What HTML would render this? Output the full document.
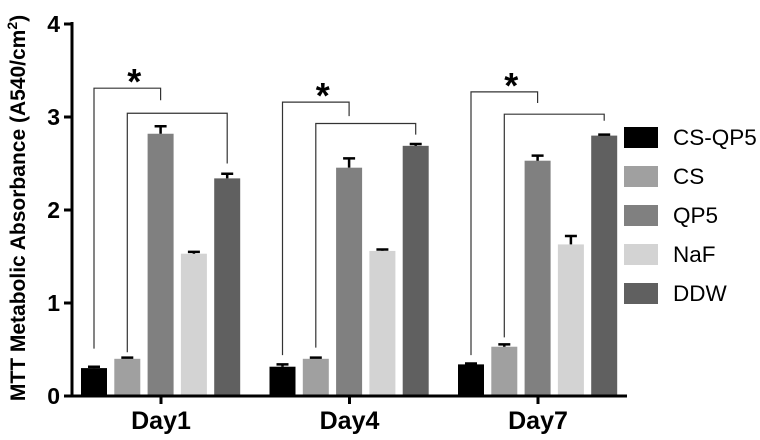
<!DOCTYPE html>
<html><head><meta charset="utf-8"><style>
html,body{margin:0;padding:0;background:#fff}
svg{display:block;font-family:"Liberation Sans",Arial,sans-serif}
</style></head><body>
<svg id="chart" width="760" height="440" viewBox="0 0 760 440" xmlns="http://www.w3.org/2000/svg"></svg>
<script>
const categories = ["Day1","Day4","Day7"];
const seriesNames = ["CS-QP5","CS","QP5","NaF","DDW"];
const csqp5 = [0.30,0.315,0.34];
const csqp5Err = [0.015,0.025,0.01];
const cs = [0.40,0.40,0.53];
const csErr = [0.012,0.012,0.025];
const qp5 = [2.82,2.455,2.53];
const qp5Err = [0.08,0.10,0.055];
const naf = [1.53,1.56,1.63];
const nafErr = [0.02,0.015,0.09];
const ddw = [2.34,2.69,2.80];
const ddwErr = [0.05,0.02,0.01];
const yTicks = [0,1,2,3,4];
const bracket1Top = [3.31,3.16,3.27];
const bracket1LeftEnd = [0.51,0.44,0.44];
const bracket1RightEnd = [3.18,3.01,3.15];
const bracket2Top = [3.04,2.93,3.03];
const bracket2LeftEnd = [0.47,0.52,0.63];
const bracket2RightEnd = [2.5,2.81,2.96];

const colors = ["#000000","#a0a0a0","#808080","#d3d3d3","#606060"];
const values = [csqp5,cs,qp5,naf,ddw];
const errs = [csqp5Err,csErr,qp5Err,nafErr,ddwErr];
const svg = document.getElementById('chart');
const NS = "http://www.w3.org/2000/svg";
const y = v => 396 - v*93;
const groupX = i => 161 + i*188.5;
const barX = (g,s) => groupX(g) - 80 + s*33.3;
const BW = 26;
function mk(tag, attrs, parent){const e=document.createElementNS(NS,tag);for(const k in attrs)e.setAttribute(k,attrs[k]);(parent||svg).appendChild(e);return e;}

values.forEach((arr,s)=>{arr.forEach((v,g)=>{
  const x = barX(g,s);
  const r = mk('rect',{x:x,y:y(v),width:BW,height:y(0)-y(v),fill:colors[s]});
  
  
  const top = y(v+errs[s][g]);
  const e = mk('path',{d:`M${x+BW/2},${y(v)}V${top}M${x+BW/2-6},${top}H${x+BW/2+6}`,stroke:"#000","stroke-width":2.5,fill:"none"});
  
  
});});

categories.forEach((c,g)=>{
  const c0=barX(g,0)+BW/2,c1=barX(g,1)+BW/2,c2=barX(g,2)+BW/2,c4=barX(g,4)+BW/2;
  const b1=mk('path',{d:`M${c0},${y(bracket1LeftEnd[g])}V${y(bracket1Top[g])}H${c2}V${y(bracket1RightEnd[g])}`,stroke:"#333","stroke-width":1.2,fill:"none"});
  
  
  const b2=mk('path',{d:`M${c1},${y(bracket2LeftEnd[g])}V${y(bracket2Top[g])}H${c4}V${y(bracket2RightEnd[g])}`,stroke:"#333","stroke-width":1.2,fill:"none"});
  
  
  const st=mk('text',{x:(c0+c2)/2 + 7,y:y(bracket1Top[g])+6,"font-size":36,"font-weight":"bold","text-anchor":"middle"});
  st.textContent='*';
  
  
});

const ax=mk('path',{d:"M72,22V397.5M70.5,396H627",stroke:"#000","stroke-width":3,fill:"none"});


yTicks.forEach(t=>{
  const tk=mk('path',{d:`M64,${y(t)}H72`,stroke:"#000","stroke-width":3});
  
  
  const tl=mk('text',{x:60,y:y(t)+8,"font-size":23,"font-weight":"bold","text-anchor":"end"});
  tl.textContent=t;
  
  
});
categories.forEach((c,g)=>{
  const tk=mk('path',{d:`M${groupX(g)},396V404`,stroke:"#000","stroke-width":3});
  
  
  const tl=mk('text',{x:groupX(g),y:429,"font-size":25,"font-weight":"bold","text-anchor":"middle"});
  tl.textContent=c;
  
  
});
const yt=mk('text',{x:0,y:0,"font-size":21,"font-weight":"bold","text-anchor":"middle",transform:"translate(25,208) rotate(-90)"});
yt.innerHTML='MTT Metabolic Absorbance (A540/cm<tspan dy="-8" font-size="14">2</tspan><tspan dy="8">)</tspan>';



seriesNames.forEach((n,s)=>{
  const cy=137+s*39;
  const sw=mk('rect',{x:624,y:cy-10,width:34,height:21,fill:colors[s]});
  
  
  const t=mk('text',{x:673,y:cy+8,"font-size":22.5});
  t.textContent=n;
  
  
});
</script>
</body></html>
